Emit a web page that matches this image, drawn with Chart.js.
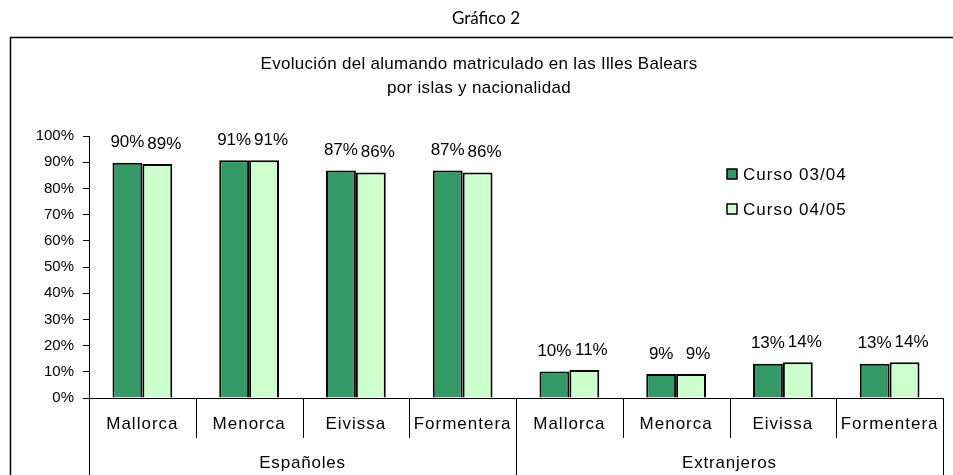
<!DOCTYPE html>
<html><head><meta charset="utf-8">
<script src="https://cdn.jsdelivr.net/npm/chart.js@4.4.0/dist/chart.umd.min.js"></script>
<style>html,body{margin:0;padding:0;background:#fff}#w{width:953px;height:475px;position:relative}</style>
</head><body><div id="w"><canvas id="c" width="953" height="475"></canvas></div>
<script>
const categories = ["Mallorca","Menorca","Eivissa","Formentera","Mallorca","Menorca","Eivissa","Formentera"];
const groups = ["Españoles","Extranjeros"];
const seriesNames = ["Curso 03/04","Curso 04/05"];
const curso0304 = [89.8, 90.7, 86.8, 86.8, 10.1, 9.2, 13.1, 13.1];
const curso0405 = [89.3, 90.7, 86.1, 86.1, 10.7, 9.2, 13.6, 13.6];
const yTicks = [0,10,20,30,40,50,60,70,80,90,100];
const mainTitle = "Gráfico 2";
const chartTitle = ["Evolución del alumando matriculado en las Illes Balears","por islas y nacionalidad"];
const colors = ["#339966","#CCFFCC"];
const FONT = "'Liberation Sans', Arial, sans-serif";

const extras = {
  id:'extras',
  afterDraw(chart){
    const ctx = chart.ctx, ca = chart.chartArea, x = chart.scales.x, y = chart.scales.y;
    ctx.save();
    // outer box
    ctx.strokeStyle='#000'; ctx.lineWidth=1.5;
    ctx.beginPath(); ctx.moveTo(10.5,476); ctx.lineTo(10.5,37.5); ctx.lineTo(953,37.5); ctx.stroke();
    ctx.fillStyle='#000'; ctx.textAlign='center'; ctx.textBaseline='middle';
    ctx.font = "17px Lato, 'Open Sans', sans-serif";
    ctx.fillText(mainTitle, 486, 19);
    ctx.font = "17px "+FONT;
    ctx.letterSpacing = "0.3px";
    ctx.fillText(chartTitle[0], 479, 64);
    ctx.fillText(chartTitle[1], 479, 88);
    // x axis line
    const y0 = y.getPixelForValue(0);
    ctx.lineWidth=1;
    ctx.beginPath(); ctx.moveTo(ca.left, y0+0.5); ctx.lineTo(ca.right, y0+0.5); ctx.stroke();
    const n = categories.length;
    const cw = (ca.right-ca.left)/n;
    for(let i=0;i<=n;i++){
      const xx = Math.round(ca.left + i*cw)+0.5;
      const bottom = (i===0||i===n||i===n/2) ? 476 : y0+40;
      ctx.beginPath(); ctx.moveTo(xx,y0); ctx.lineTo(xx,bottom); ctx.stroke();
    }
    ctx.font = "17px "+FONT;
    ctx.letterSpacing = "1px";
    categories.forEach((c,i)=>{ ctx.fillText(c, x.getPixelForValue(i), y0+26); });
    ctx.letterSpacing = "0.8px";
    groups.forEach((g,gi)=>{
      ctx.fillText(g, ca.left + (gi*4+2)*cw, y0+65);
    });
    // data labels
    ctx.letterSpacing = "0px";
    ctx.font = "17px "+FONT;
    chart.data.datasets.forEach((ds,di)=>{
      const meta = chart.getDatasetMeta(di);
      meta.data.forEach((el,i)=>{
        ctx.fillText(Math.round(ds.data[i])+'%', el.x + (di===1?7:0), el.y-20);
      });
    });
    // legend
    ctx.textAlign='left';
    ctx.letterSpacing = "1px";
    seriesNames.forEach((s,i)=>{
      const ly = 174 + i*35;
      ctx.fillStyle = colors[i];
      ctx.fillRect(727, ly-5, 10, 10);
      ctx.strokeStyle='#000'; ctx.lineWidth=1.5;
      ctx.strokeRect(727, ly-5, 10, 10);
      ctx.fillStyle='#000';
      ctx.fillText(s, 743, ly+1);
    });
    ctx.restore();
  }
};

new Chart(document.getElementById('c'), {
  type:'bar',
  data:{
    labels: categories,
    datasets:[
      {label:seriesNames[0], data:curso0304, backgroundColor:colors[0], borderColor:'#000', borderWidth:2, categoryPercentage:0.56, barPercentage:1},
      {label:seriesNames[1], data:curso0405, backgroundColor:colors[1], borderColor:'#000', borderWidth:2, categoryPercentage:0.56, barPercentage:1}
    ]
  },
  options:{
    responsive:false, animation:false, devicePixelRatio:1,
    layout:{padding:{left:0, top:136, right:10, bottom:77}},
    plugins:{legend:{display:false}, title:{display:false}, tooltip:{enabled:false}},
    scales:{
      x:{display:false},
      y:{
        min:0, max:100,
        afterFit(s){ s.width = 89; },
        afterBuildTicks(s){ s.ticks = yTicks.map(v=>({value:v})); },
        grid:{drawOnChartArea:false, drawTicks:true, tickLength:6, color:'#000'},
        border:{color:'#000', width:1},
        ticks:{padding:9, color:'#000', font:{family:FONT, size:15}, callback:v=>v+'%'}
      }
    }
  },
  plugins:[extras]
});
</script></body></html>
